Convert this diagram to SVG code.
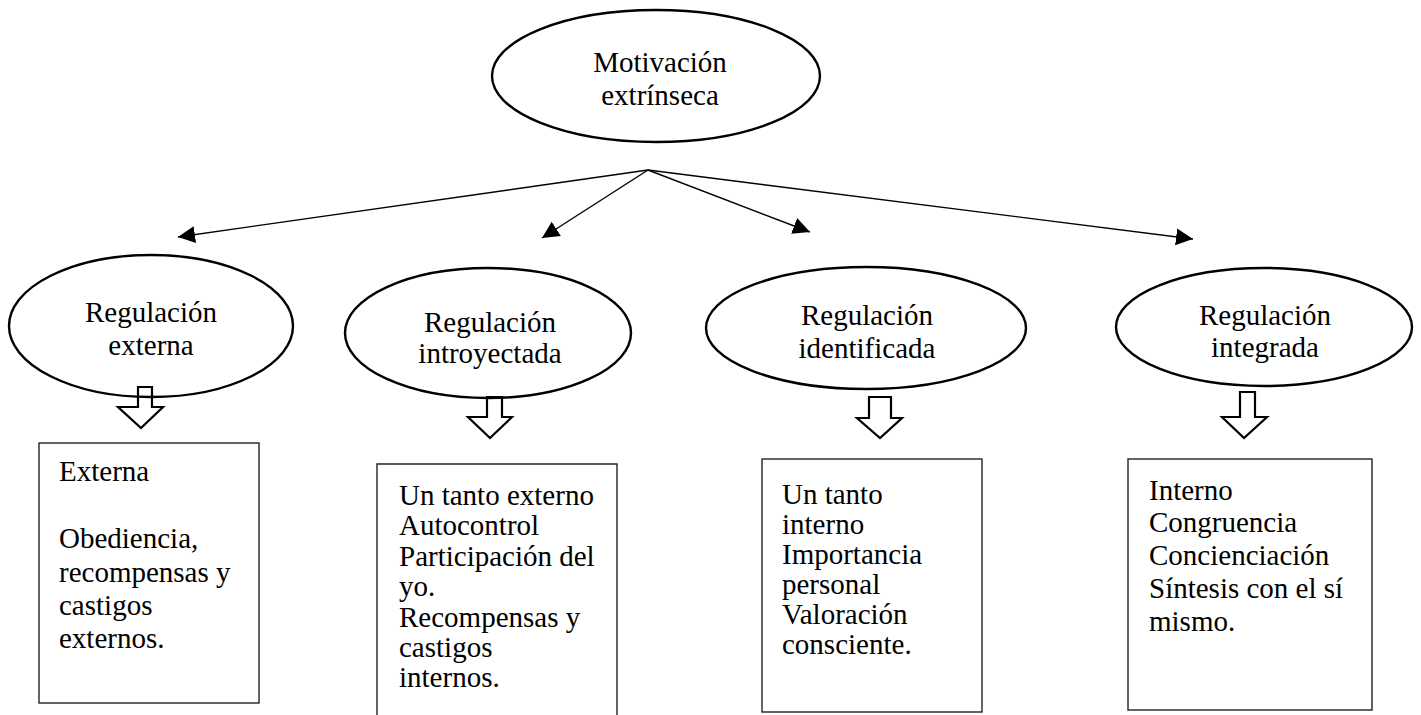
<svg xmlns="http://www.w3.org/2000/svg" width="1421" height="715" viewBox="0 0 1421 715">
<defs>
<marker id="ah" markerUnits="userSpaceOnUse" markerWidth="20" markerHeight="18" refX="17" refY="8.5" orient="auto">
<path d="M0,0 L17,8.5 L0,17 Z" fill="#000"/>
</marker>
<style>
.t{font-family:"Liberation Serif","Times New Roman",serif;font-size:29px;fill:#000}
.c{text-anchor:middle}
.el{fill:none;stroke:#000;stroke-width:2.4}
.bx{fill:#fff;stroke:#222;stroke-width:1.4}
.ln{fill:none;stroke:#000;stroke-width:1.4;marker-end:url(#ah)}
.ba{fill:#fff;stroke:#000;stroke-width:2.2;stroke-linejoin:miter}
</style>
</defs>
<rect width="1421" height="715" fill="#fff"/>
<g id="connectors">
<line class="ln" x1="648" y1="170" x2="178" y2="237"/>
<line class="ln" x1="648" y1="170" x2="542" y2="238"/>
<line class="ln" x1="648" y1="170" x2="810" y2="232"/>
<line class="ln" x1="648" y1="170" x2="1193" y2="239"/>
<polygon class="ba" points="138,387 152,387 152,407 163,407 141,428 118,407 138,407"/>
<polygon class="ba" points="487,397 502,397 502,417 512,417 490,438 468,417 487,417"/>
<polygon class="ba" points="869,397 891,397 891,418 902,418 880,438 857,418 869,418"/>
<polygon class="ba" points="1240,392 1255,392 1255,417 1267,417 1244,438 1222,417 1240,417"/>
</g>
<g id="n-motivacion">
<ellipse class="el" cx="656" cy="76" rx="164" ry="66"/>
<text class="t c" x="660" y="72">Motivación</text>
<text class="t c" x="660" y="105">extrínseca</text>
</g>
<g id="n-reg-externa">
<ellipse class="el" cx="151" cy="326" rx="142" ry="71"/>
<text class="t c" x="151" y="322">Regulación</text>
<text class="t c" x="151" y="355">externa</text>
</g>
<g id="n-reg-introyectada">
<ellipse class="el" cx="488" cy="333" rx="143" ry="65"/>
<text class="t c" x="490" y="332">Regulación</text>
<text class="t c" x="490" y="363">introyectada</text>
</g>
<g id="n-reg-identificada">
<ellipse class="el" cx="866" cy="328" rx="160" ry="61"/>
<text class="t c" x="867" y="325">Regulación</text>
<text class="t c" x="867" y="358">identificada</text>
</g>
<g id="n-reg-integrada">
<ellipse class="el" cx="1264" cy="327" rx="148" ry="59"/>
<text class="t c" x="1265" y="325">Regulación</text>
<text class="t c" x="1265" y="357">integrada</text>
</g>
<g id="b-externa">
<rect class="bx" x="39" y="443" width="220" height="260"/>
<text class="t" x="59" y="481">Externa</text>
<text class="t" x="59" y="548">Obediencia,</text>
<text class="t" x="59" y="582">recompensas y</text>
<text class="t" x="59" y="615">castigos</text>
<text class="t" x="59" y="648">externos.</text>
</g>
<g id="b-introyectada">
<path class="bx" d="M377,716 L377,464 L617,464 L617,716"/>
<text class="t" x="399" y="505">Un tanto externo</text>
<text class="t" x="399" y="535">Autocontrol</text>
<text class="t" x="399" y="566">Participación del</text>
<text class="t" x="399" y="596">yo.</text>
<text class="t" x="399" y="627">Recompensas y</text>
<text class="t" x="399" y="657">castigos</text>
<text class="t" x="399" y="687">internos.</text>
</g>
<g id="b-identificada">
<rect class="bx" x="762" y="459" width="220" height="253"/>
<text class="t" x="782" y="504">Un tanto</text>
<text class="t" x="782" y="534">interno</text>
<text class="t" x="782" y="564">Importancia</text>
<text class="t" x="782" y="594">personal</text>
<text class="t" x="782" y="624">Valoración</text>
<text class="t" x="782" y="654">consciente.</text>
</g>
<g id="b-integrada">
<rect class="bx" x="1128" y="459" width="244" height="251"/>
<text class="t" x="1149" y="500">Interno</text>
<text class="t" x="1149" y="532">Congruencia</text>
<text class="t" x="1149" y="565">Concienciación</text>
<text class="t" x="1149" y="598">Síntesis con el sí</text>
<text class="t" x="1149" y="631">mismo.</text>
</g>
</svg>
